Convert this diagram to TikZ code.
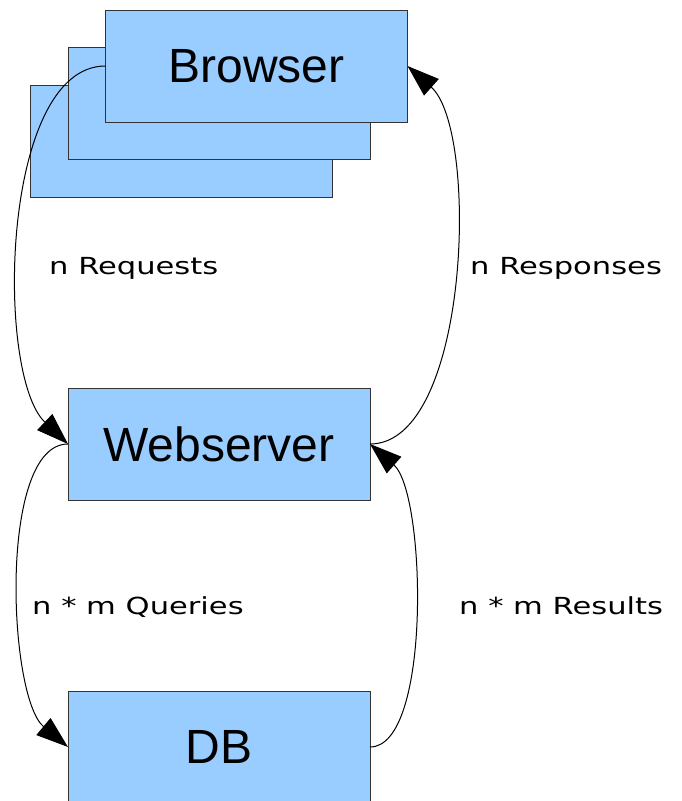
\documentclass[tikz,border=0pt]{standalone}
\usepackage{fontspec}
\setmainfont{Liberation Sans}
\newfontfamily\labelfont{DejaVu Sans}
\usetikzlibrary{arrows.meta}
\definecolor{boxblue}{RGB}{153,204,255}
\newcommand{\widelbl}[1]{\scalebox{1.3}[1]{#1}}
\tikzset{
  box/.style={draw=black!80, fill=boxblue, line width=1pt, minimum width=302pt, minimum height=112pt, inner sep=0pt, outer sep=0pt, font=\fontsize{48}{50}\selectfont},
  conn/.style={draw=black, line width=1pt, -{Triangle[length=32pt,width=22pt]}},
  lbl/.style={anchor=base west, inner sep=0pt, font=\labelfont\fontsize{23.5}{26}\selectfont}
}
\begin{document}
\begin{tikzpicture}[x=1pt,y=-1pt]
\useasboundingbox (0,0) rectangle (682,801);
\clip (0,0) rectangle (682,801);
\node[box] (b3) at (181,141.5) {};
\node[box] (b2) at (219,103.5) {};
\node[box] (browser) at (256.5,66) {Browser};
\node[box] (web) at (219,444) {Webserver};
\node[box] (db) at (219,747) {DB};
\draw[conn] (browser.west) .. controls +(-105,0) and +(-73,-69) .. (web.west);
\draw[conn] (web.east) .. controls +(100,0) and +(72,64) .. (browser.east);
\draw[conn] (web.west) .. controls +(-70,0) and +(-60,-50) .. (db.west);
\draw[conn] (db.east) .. controls +(62,0) and +(56,49) .. (web.east);
\node[lbl] (lreq) at (49,274) {\widelbl{n Requests}};
\node[lbl] (lresp) at (470,274) {\widelbl{n Responses}};
\node[lbl] (lq) at (32,614) {\widelbl{n * m Queries}};
\node[lbl] (lres) at (459,614) {\widelbl{n * m Results}};
\end{tikzpicture}
\end{document}
